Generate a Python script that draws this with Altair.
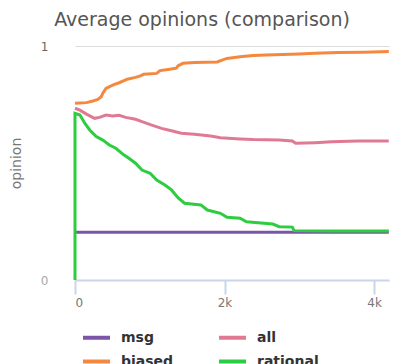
import altair as alt
import pandas as pd

series_names = ["msg", "biased", "all", "rational"]
colors = ["#7d55a8", "#f5883f", "#e07a93", "#2ecc40"]

msg_x = [0, 4197]
msg_y = [0.204, 0.204]

biased_x = [0, 153, 240, 306, 350, 372, 415, 503, 590, 656, 699, 809, 874, 918, 1093, 1137,
            1246, 1355, 1377, 1443, 1596, 1902, 1967, 2033, 2208, 2383, 2557, 2995, 3213,
            3519, 3869, 4197]
biased_y = [0.755, 0.758, 0.765, 0.772, 0.783, 0.798, 0.819, 0.833, 0.843, 0.852, 0.858, 0.866,
            0.872, 0.879, 0.883, 0.895, 0.900, 0.905, 0.915, 0.926, 0.929, 0.932, 0.940, 0.947,
            0.954, 0.959, 0.962, 0.966, 0.969, 0.972, 0.973, 0.976]

all_x = [0, 66, 153, 262, 328, 415, 503, 590, 678, 809, 896, 1027, 1158, 1290, 1421, 1596,
         1814, 1945, 2208, 2383, 2732, 2907, 2951, 3213, 3432, 3781, 4197]
all_y = [0.734, 0.726, 0.709, 0.691, 0.695, 0.705, 0.701, 0.704, 0.695, 0.687, 0.677, 0.662,
         0.648, 0.638, 0.627, 0.623, 0.615, 0.608, 0.603, 0.600, 0.598, 0.594, 0.584, 0.587,
         0.591, 0.594, 0.594]

rational_x = [0, 0, 66, 131, 197, 284, 372, 459, 546, 656, 721, 809, 896, 1005, 1093, 1202,
              1290, 1377, 1465, 1683, 1770, 1945, 2033, 2208, 2295, 2645, 2732, 2907, 2929,
              3432, 4197]
rational_y = [0.0, 0.712, 0.705, 0.670, 0.641, 0.613, 0.598, 0.577, 0.563, 0.534, 0.520, 0.499,
              0.470, 0.456, 0.427, 0.406, 0.385, 0.352, 0.328, 0.321, 0.299, 0.285, 0.268,
              0.264, 0.249, 0.239, 0.228, 0.226, 0.211, 0.209, 0.209]

x_ticks = [0, 2000, 4000]
y_ticks = [0, 1]

rows = []
for name, xs, ys in [("msg", msg_x, msg_y), ("biased", biased_x, biased_y),
                     ("all", all_x, all_y), ("rational", rational_x, rational_y)]:
    for i, (xv, yv) in enumerate(zip(xs, ys)):
        rows.append({"series": name, "t": xv, "opinion": yv, "i": i,
                     "z": series_names.index(name)})
df = pd.DataFrame(rows)

chart = alt.Chart(df).mark_line(strokeWidth=3).encode(
    x=alt.X("t:Q", scale=alt.Scale(domain=[0, 4200], nice=False, zero=False),
            axis=alt.Axis(values=x_ticks, grid=False, title=None,
                          labelExpr="datum.value === 0 ? '0' : (datum.value / 1000) + 'k'",
                          domainColor="#c9d5e8", domainWidth=2, tickColor="#c9d5e8",
                          tickWidth=2, tickSize=14, labelPadding=3, labelColor="#777",
                          labelFontSize=12, labelFont="DejaVu Sans")),
    y=alt.Y("opinion:Q", scale=alt.Scale(domain=[0, 1], nice=False),
            axis=alt.Axis(values=y_ticks, format="d", grid=True, gridColor="#dddddd",
                          domain=False, ticks=False, labelPadding=27, labelFontSize=12,
                          labelFont="DejaVu Sans",
                          labelColor={"condition": {"test": "datum.value === 0", "value": "#aaa"},
                                      "value": "#666"},
                          title="opinion", titleFontSize=14, titleColor="#777",
                          titleFontWeight="normal", titleFont="DejaVu Sans", titlePadding=17)),
    color=alt.Color("series:N", scale=alt.Scale(domain=series_names, range=colors),
                    legend=alt.Legend(orient="none", legendX=6, legendY=276, columns=2,
                                      title=None, symbolType="M-1,0L1,0", symbolStrokeWidth=4,
                                      symbolSize=729, labelFontSize=14, labelFontWeight="bold",
                                      labelColor="#333", labelFont="DejaVu Sans",
                                      columnPadding=37, rowPadding=-10, labelOffset=9,
                                      padding=0)),
    order=alt.Order("i:Q"),
    detail="z:N",
).properties(
    width=314, height=234,
    autosize=alt.AutoSizeParams(type="none"),
    padding={"left": 67, "top": 38, "right": 1, "bottom": 100},
    title=alt.TitleParams("Average opinions (comparison)", fontSize=19, color="#555",
                          fontWeight="normal", font="DejaVu Sans", dx=-30, offset=10),
).configure_view(stroke=None)

chart.save("out.html", embed_options={"renderer": "svg", "actions": False})
